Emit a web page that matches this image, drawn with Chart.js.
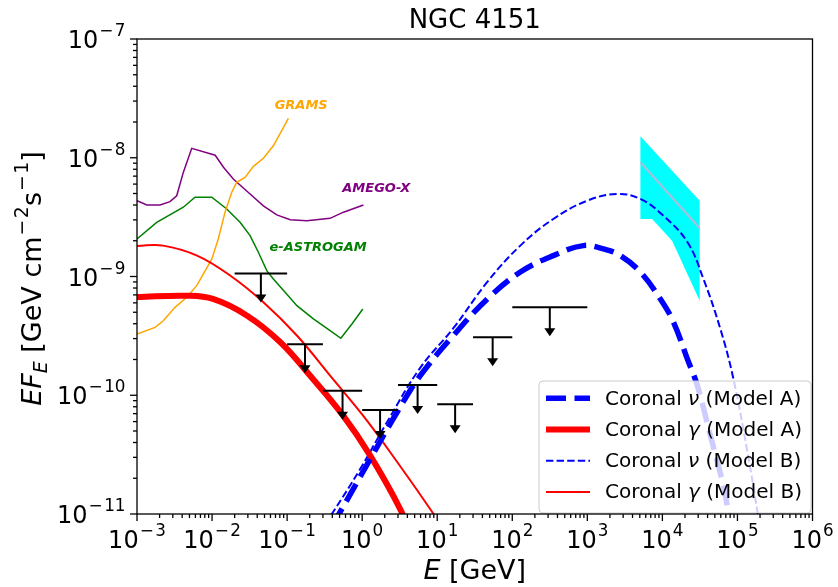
<!DOCTYPE html>
<html>
<head>
<meta charset="utf-8">
<script src="https://cdn.jsdelivr.net/npm/chart.js@4.4.1/dist/chart.umd.min.js"></script>
<style>
  body { margin: 0; background: #fff; }
  #wrap { width: 838px; height: 587px; }
</style>
</head>
<body>
<div id="wrap"><canvas id="myChart" width="838" height="587"></canvas></div>
<script>
// energies in GeV, fluxes E*F_E in GeV cm^-2 s^-1

// coronal neutrinos, model A (thick dashed)
const nuAEnergy = [0.398, 0.509, 1.28, 2.93, 5.93, 16.3, 46.5, 128, 352, 885, 1633, 2754, 5093, 9397, 14030, 21530, 29310, 43650, 65010, 75860, 89130];
const nuAFlux = [7.9e-12, 1.04e-11, 2.90e-11, 7.23e-11, 1.46e-10, 3.17e-10, 6.47e-10, 1.09e-9, 1.50e-9, 1.82e-9, 1.71e-9, 1.50e-9, 1.09e-9, 6.47e-10, 4.14e-10, 2.02e-10, 1.20e-10, 4.56e-11, 1.73e-11, 1.04e-11, 6.3e-12];

// coronal gammas, model A (thick solid)
const gammaAEnergy = [1e-3, 4.65e-3, 1.03e-2, 2.93e-2, 8.07e-2, 0.203, 0.558, 1.28, 3.21, 5.0];
const gammaAFlux = [6.71e-10, 6.89e-10, 6.47e-10, 4.68e-10, 2.81e-10, 1.46e-10, 6.73e-11, 3.10e-11, 1.10e-11, 5.6e-12];

// coronal neutrinos, model B (thin dashed)
const nuBEnergy = [0.316, 0.410, 0.940, 2.15, 5.93, 16.3, 46.5, 128, 352, 1000, 2512, 5093, 10300, 21530, 35240, 59290, 88510, 135800, 184900, 213800];
const nuBFlux = [8.3e-12, 1.04e-11, 2.39e-11, 5.96e-11, 1.70e-10, 3.65e-10, 9.0e-10, 1.82e-9, 3.05e-9, 4.35e-9, 4.95e-9, 4.50e-9, 3.25e-9, 1.95e-9, 9.53e-10, 3.61e-10, 1.37e-10, 3.33e-11, 1.04e-11, 5.6e-12];

// coronal gammas, model B (thin solid)
const gammaBEnergy = [1e-3, 2.22e-3, 6.31e-3, 1.74e-2, 4.79e-2, 0.136, 0.374, 1.03, 2.93, 8.57, 12.6];
const gammaBFlux = [1.81e-9, 1.82e-9, 1.50e-9, 1.02e-9, 6.10e-10, 3.17e-10, 1.46e-10, 6.73e-11, 2.74e-11, 1.04e-11, 7.1e-12];

// MeV instrument sensitivities
const gramsEnergy = [1e-3, 1.74e-3, 2.24e-3, 3.21e-3, 4.60e-3, 6.25e-3, 9.91e-3, 1.21e-2, 1.49e-2, 1.83e-2, 2.13e-2, 2.75e-2, 3.56e-2, 4.83e-2, 6.56e-2, 0.104];
const gramsFlux = [3.28e-10, 3.73e-10, 4.24e-10, 5.50e-10, 6.68e-10, 8.38e-10, 1.40e-9, 2.07e-9, 3.48e-9, 5.12e-9, 6.21e-9, 6.84e-9, 8.47e-9, 9.89e-9, 1.26e-8, 2.15e-8];

const amegoEnergy = [1e-3, 1.35e-3, 2.03e-3, 2.75e-3, 3.38e-3, 4.14e-3, 5.36e-3, 1.10e-2, 1.42e-2, 1.92e-2, 3.21e-2, 4.83e-2, 7.29e-2, 0.110, 0.183, 0.374, 0.564, 1.04];
const amegoFlux = [4.35e-9, 4.00e-9, 4.00e-9, 4.27e-9, 4.79e-9, 7.53e-9, 1.20e-8, 1.05e-8, 8.32e-9, 6.62e-9, 4.95e-9, 3.94e-9, 3.30e-9, 3.01e-9, 2.95e-9, 3.09e-9, 3.48e-9, 4.00e-9];

const astrogamEnergy = [1e-3, 1.83e-3, 4.14e-3, 5.93e-3, 9.91e-3, 1.57e-2, 2.36e-2, 3.21e-2, 4.14e-2, 5.36e-2, 6.56e-2, 9.40e-2, 0.135, 0.224, 0.374, 0.520, 0.730, 1.02];
const astrogamFlux = [2.07e-9, 2.86e-9, 3.83e-9, 4.65e-9, 4.65e-9, 3.70e-9, 2.86e-9, 2.21e-9, 1.60e-9, 1.12e-9, 9.53e-10, 7.36e-10, 5.68e-10, 4.39e-10, 3.50e-10, 3.02e-10, 3.98e-10, 5.32e-10];

// IceCube band (closed outline) and best fit
const bandEnergy = [5093, 31410, 31410, 13460, 7295, 5093, 5093];
const bandFlux = [1.52e-8, 4.35e-9, 6.25e-10, 2.0e-9, 3.05e-9, 3.05e-9, 1.52e-8];
const fitEnergy = [5093, 31410];
const fitFlux = [9.16e-9, 2.55e-9];

// Fermi-LAT upper limits: energy bins and values
const ulLow = [0.02, 0.1, 0.3, 1, 3, 10, 30, 100];
const ulHigh = [0.1, 0.3, 1, 3, 10, 30, 100, 1000];
const ulFlux = [1.06e-9, 2.69e-10, 1.09e-10, 7.52e-11, 1.22e-10, 8.39e-11, 3.08e-10, 5.51e-10];

// axis decades (tick labels are 10^n)
const xDecades = [-3, -2, -1, 0, 1, 2, 3, 4, 5, 6];
const yDecades = [-11, -10, -9, -8, -7];

const FONT = '"DejaVu Sans", sans-serif';

const pts = (xs, ys) => xs.map((v, i) => ({x: v, y: ys[i]}));

function pieceFont(p, size) {
  const s = (p.sup || p.sub) ? size * 0.7 : size;
  return (p.it ? 'italic ' : '') + s + 'px ' + FONT;
}
function pieceWidth(ctx, p, size) {
  ctx.font = pieceFont(p, size);
  return (p.padL || 0) + ctx.measureText(p.t).width + (p.padR || 0);
}
function mathWidth(ctx, pieces, size) {
  return pieces.reduce((w, p) => w + pieceWidth(ctx, p, size), 0);
}
function drawMath(ctx, pieces, size, x, y) {
  ctx.textBaseline = 'alphabetic';
  ctx.textAlign = 'left';
  pieces.forEach(p => {
    const w = pieceWidth(ctx, p, size);
    const dy = p.sup ? -0.5 * size : (p.sub ? 0.22 * size : 0);
    ctx.fillText(p.t, x + (p.padL || 0), y + dy);
    x += w;
  });
}
// 10^n with matplotlib-like spacing round the minus sign
function sup(n) {
  const out = [];
  if (n < 0) out.push({t: '\u2212', sup: true, padL: 1, padR: 1.5});
  out.push({t: '' + Math.abs(n), sup: true, padL: n < 0 ? 0 : 1});
  return out;
}
const pow10 = n => [{t: '10'}, ...sup(n)];

// error bars with down arrows
const limitsPlugin = {
  id: 'upperLimits',
  afterDraw(chart) {
    const {ctx, scales: {x, y}} = chart;
    ctx.save();
    ctx.strokeStyle = '#000';
    ctx.fillStyle = '#000';
    ctx.lineWidth = 2;
    ulFlux.forEach((v, i) => {
      const x0 = x.getPixelForValue(ulLow[i]);
      const x1 = x.getPixelForValue(ulHigh[i]);
      const xc = x.getPixelForValue(Math.sqrt(ulLow[i] * ulHigh[i]));
      const y0 = y.getPixelForValue(v);
      const y1 = y.getPixelForValue(v * 0.57);
      ctx.beginPath(); ctx.moveTo(x0, y0); ctx.lineTo(x1, y0); ctx.stroke();
      ctx.beginPath(); ctx.moveTo(xc, y0); ctx.lineTo(xc, y1 - 6); ctx.stroke();
      ctx.beginPath();
      ctx.moveTo(xc - 5.5, y1 - 8); ctx.lineTo(xc + 5.5, y1 - 8); ctx.lineTo(xc, y1);
      ctx.closePath(); ctx.fill();
    });
    ctx.restore();
  }
};

// instrument names next to their curves
const tags = [
  {text: 'GRAMS', color: '#ffa500', E: 0.154, F: 2.77e-8},
  {text: 'AMEGO-X', color: '#800080', E: 1.54, F: 5.53e-9},
  {text: 'e-ASTROGAM', color: '#008000', E: 0.259, F: 1.76e-9}
];
const tagPlugin = {
  id: 'tags',
  afterDraw(chart) {
    const {ctx, scales: {x, y}} = chart;
    ctx.save();
    ctx.font = 'italic bold 13px ' + FONT;
    ctx.textAlign = 'center';
    ctx.textBaseline = 'middle';
    tags.forEach(t => {
      ctx.fillStyle = t.color;
      ctx.fillText(t.text, x.getPixelForValue(t.E), y.getPixelForValue(t.F));
    });
    ctx.restore();
  }
};

// legend box in the lower right corner
const legendPlugin = {
  id: 'boxLegend',
  afterDraw(chart) {
    const {ctx, chartArea: a} = chart;
    const items = chart.data.datasets.filter(d => d.label);
    const size = 20;
    const rows = items.map(d => {
      const sym = d.label.includes('\u03bd') ? '\u03bd' : '\u03b3';
      const [pre, post] = d.label.split(sym);
      return [{t: pre}, {t: sym, it: true}, {t: post}];
    });
    ctx.save();
    const textW = Math.max(...rows.map(r => mathWidth(ctx, r, size)));
    const w = 66 + textW + 9;
    const h = 132;
    const left = a.right - 1.5 - w, top = a.bottom - 1 - h;
    ctx.beginPath();
    ctx.roundRect(left, top, w, h, 4);
    ctx.fillStyle = 'rgba(255,255,255,0.8)';
    ctx.fill();
    ctx.strokeStyle = '#cccccc';
    ctx.lineWidth = 1;
    ctx.stroke();
    items.forEach((d, i) => {
      const yy = top + 17.3 + i * 31.2;
      ctx.beginPath();
      ctx.strokeStyle = d.borderColor;
      ctx.lineWidth = d.borderWidth;
      ctx.setLineDash(d.borderDash || []);
      ctx.moveTo(left + 7, yy);
      ctx.lineTo(left + 51, yy);
      ctx.stroke();
      ctx.setLineDash([]);
      ctx.fillStyle = '#000';
      drawMath(ctx, rows[i], size, left + 66, yy + 6.5);
    });
    ctx.restore();
  }
};

// frame, ticks, tick labels, axis titles
const axesPlugin = {
  id: 'mplAxes',
  afterDraw(chart) {
    const {ctx, chartArea: a, scales: {x, y}} = chart;
    ctx.save();
    ctx.strokeStyle = '#000';
    ctx.fillStyle = '#000';
    ctx.lineWidth = 1.3;
    ctx.strokeRect(a.left, a.top, a.right - a.left, a.bottom - a.top);

    const tick = 24;
    xDecades.forEach(n => {
      const px = x.getPixelForValue(Math.pow(10, n));
      ctx.beginPath(); ctx.moveTo(px, a.bottom); ctx.lineTo(px, a.bottom + 7); ctx.stroke();
      if (n < xDecades[xDecades.length - 1]) {
        for (let m = 2; m <= 9; m++) {
          const pm = x.getPixelForValue(m * Math.pow(10, n));
          ctx.beginPath(); ctx.moveTo(pm, a.bottom); ctx.lineTo(pm, a.bottom + 4); ctx.stroke();
        }
      }
      const lab = pow10(n);
      const w = mathWidth(ctx, lab, tick);
      drawMath(ctx, lab, tick, px - w / 2, a.bottom + 33.5);
    });
    yDecades.forEach(n => {
      const py = y.getPixelForValue(Math.pow(10, n));
      ctx.beginPath(); ctx.moveTo(a.left, py); ctx.lineTo(a.left - 7, py); ctx.stroke();
      if (n < yDecades[yDecades.length - 1]) {
        for (let m = 2; m <= 9; m++) {
          const pm = y.getPixelForValue(m * Math.pow(10, n));
          ctx.beginPath(); ctx.moveTo(a.left, pm); ctx.lineTo(a.left - 4, pm); ctx.stroke();
        }
      }
      const lab = pow10(n);
      const w = mathWidth(ctx, lab, tick);
      drawMath(ctx, lab, tick, a.left - 11.5 - w, py + 9);
    });

    // title
    const cx = (a.left + a.right) / 2;
    ctx.font = '26px ' + FONT;
    ctx.textAlign = 'center';
    ctx.textBaseline = 'alphabetic';
    ctx.fillText('NGC 4151', cx, 27.5);

    // x label
    const lab = 27;
    const xl = [{t: 'E', it: true}, {t: ' [GeV]'}];
    const xw = mathWidth(ctx, xl, lab);
    drawMath(ctx, xl, lab, cx - xw / 2, 579);

    // y label
    const yl = [{t: 'E', it: true}, {t: 'F', it: true}, {t: 'E', it: true, sub: true},
      {t: ' [GeV cm'}, ...sup(-2), {t: 's'}, ...sup(-1), {t: ']'}];
    const yw = mathWidth(ctx, yl, lab);
    ctx.translate(41, (a.top + a.bottom) / 2 + 2);
    ctx.rotate(-Math.PI / 2);
    drawMath(ctx, yl, lab, -yw / 2, 0);
    ctx.restore();
  }
};

const smooth = {pointRadius: 0, fill: false, tension: 0.4};
const plain = {pointRadius: 0, fill: false, tension: 0};

const data = {
  datasets: [
    {label: 'Coronal \u03bd (Model A)', data: pts(nuAEnergy, nuAFlux), borderColor: '#0000ff',
      borderWidth: 5.5, borderDash: [20, 8.5], order: 1, ...smooth},
    {label: 'Coronal \u03b3 (Model A)', data: pts(gammaAEnergy, gammaAFlux), borderColor: '#ff0000',
      borderWidth: 6, order: 2, ...smooth},
    {label: 'Coronal \u03bd (Model B)', data: pts(nuBEnergy, nuBFlux), borderColor: '#0000ff',
      borderWidth: 2, borderDash: [7.4, 3.2], order: 3, ...smooth},
    {label: 'Coronal \u03b3 (Model B)', data: pts(gammaBEnergy, gammaBFlux), borderColor: '#ff0000',
      borderWidth: 2, order: 4, ...smooth},
    {data: pts(gramsEnergy, gramsFlux), borderColor: '#ffa500', borderWidth: 1.5, order: 5, ...plain},
    {data: pts(amegoEnergy, amegoFlux), borderColor: '#800080', borderWidth: 1.5, order: 6, ...plain},
    {data: pts(astrogamEnergy, astrogamFlux), borderColor: '#008000', borderWidth: 1.5, order: 7, ...plain},
    {data: pts(fitEnergy, fitFlux), borderColor: '#a9bfdc', borderWidth: 2, order: 8, ...plain},
    {data: pts(bandEnergy, bandFlux), borderWidth: 0, borderColor: 'rgba(0,0,0,0)',
      backgroundColor: '#00ffff', pointRadius: 0, tension: 0, fill: 'shape', order: 9}
  ]
};

const config = {
  type: 'line',
  data,
  options: {
    responsive: false,
    animation: false,
    events: [],
    layout: {padding: {left: 137, top: 39, right: 25.5, bottom: 73}},
    scales: {
      x: {type: 'logarithmic', min: 1e-3, max: 1e6, display: false},
      y: {type: 'logarithmic', min: 1e-11, max: 1e-7, display: false}
    },
    plugins: {
      legend: {display: false},
      tooltip: {enabled: false}
    }
  },
  plugins: [limitsPlugin, tagPlugin, legendPlugin, axesPlugin]
};

const myChart = new Chart(document.getElementById('myChart').getContext('2d'), config);
</script>
</body>
</html>
